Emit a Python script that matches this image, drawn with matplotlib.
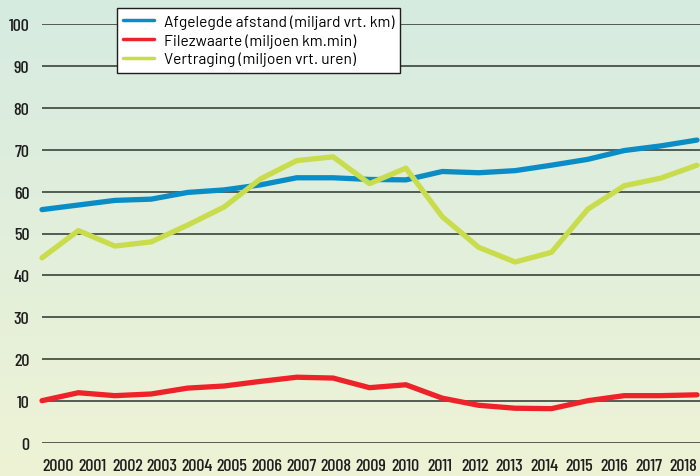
import numpy as np
import matplotlib
matplotlib.use("Agg")
import matplotlib.pyplot as plt
from matplotlib.colors import LinearSegmentedColormap

years = list(range(2000, 2019))
afstand = [55.7, 56.8, 57.9, 58.2, 59.8, 60.4, 61.6, 63.3, 63.3, 62.9, 62.8,
           64.8, 64.5, 65.0, 66.3, 67.7, 69.8, 70.9, 72.3]
filezwaarte = [10.1, 12.0, 11.3, 11.7, 13.1, 13.6, 14.7, 15.7, 15.5, 13.2, 13.9,
               10.7, 9.0, 8.3, 8.2, 10.1, 11.3, 11.3, 11.5]
vertraging = [44.2, 50.7, 47.0, 48.0, 52.0, 56.3, 63.0, 67.4, 68.3, 61.9, 65.6,
              54.0, 46.7, 43.2, 45.5, 55.8, 61.4, 63.2, 66.3]
labels = ["Afgelegde afstand (miljard vrt. km)",
          "Filezwaarte (miljoen km.min)",
          "Vertraging (miljoen vrt. uren)"]
colors = ["#0a8cc6", "#ee2229", "#c9dc4b"]

plt.rcParams['font.family'] = ['Barlow Condensed', 'DejaVu Sans']

fig = plt.figure(figsize=(7, 4.77), dpi=100)
# gradient background
bg = fig.add_axes([0, 0, 1, 1], zorder=-10)
cmap = LinearSegmentedColormap.from_list("bg", ["#d6ebe1", "#eef3d5"])
grad = np.linspace(0, 1, 256).reshape(-1, 1)
bg.imshow(grad, aspect='auto', cmap=cmap, extent=[0, 1, 0, 1], origin='upper')
bg.axis('off')

W, H = 700, 477
x0_px, x1_px = 42, 700
y0_px, y1_px = 444, 25
ax = fig.add_axes([x0_px / W, 1 - y0_px / H, (x1_px - x0_px) / W, (y0_px - y1_px) / H])
ax.set_facecolor('none')
step = (697 - 42) / 18.0
ax.set_xlim(2000, 2000 + (x1_px - x0_px) / step)
ax.set_ylim(0, 100)

for vals, c, lab in zip([afstand, filezwaarte, vertraging], colors, labels):
    ax.plot(years, vals, color=c, lw=3.8, label=lab, solid_capstyle='round',
            solid_joinstyle='round', clip_on=False, zorder=3)

ax.set_yticks(range(0, 101, 10))
# year labels are spaced slightly tighter than the data points in the original
lab_centers_px = [58 + i * (683.5 - 58) / 18 for i in range(len(years))]
ax.set_xticks([2000 + (p - x0_px) / step for p in lab_centers_px])
ax.set_xticklabels([str(y) for y in years])
ax.grid(axis='y', color='#3a433a', lw=1.2, zorder=1)
ax.tick_params(axis='both', length=0, labelsize=13, colors='#1e1e1e')
for t in ax.get_xticklabels() + ax.get_yticklabels():
    t.set_fontweight(500)
ax.tick_params(axis='y', pad=9)
ax.tick_params(axis='x', pad=11)
for s in ax.spines.values():
    s.set_visible(False)

leg = ax.legend(loc='upper left',
                bbox_to_anchor=((117 - x0_px) / (x1_px - x0_px), 1 + (25 - 9) / (y0_px - y1_px)),
                frameon=True, fancybox=False, prop={'family': 'Barlow', 'size': 11.2},
                handlelength=2.0, borderpad=0.4, labelspacing=0.28, handletextpad=0.6,
                borderaxespad=0)
leg.get_frame().set_edgecolor('#1e1e1e')
leg.get_frame().set_linewidth(1.0)
leg.get_frame().set_facecolor('white')
leg.get_frame().set_alpha(1)
leg.set_zorder(5)
for h in leg.get_lines():
    h.set_linewidth(2.5)

fig.savefig("out.png", dpi=100)
